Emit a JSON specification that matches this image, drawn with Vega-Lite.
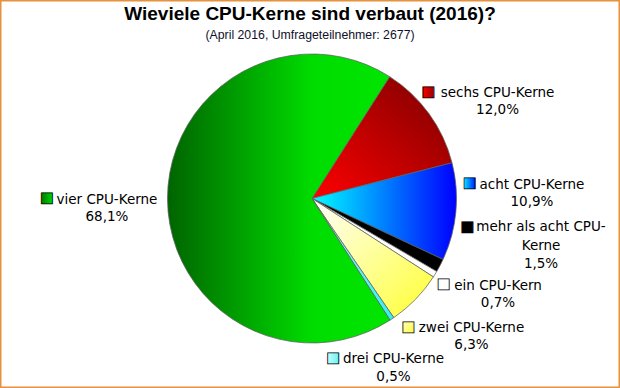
{
  "$schema": "https://vega.github.io/schema/vega-lite/v6.json",
  "width": 620,
  "height": 388,
  "autosize": {"type": "none"},
  "padding": 0,
  "background": "white",
  "view": {"stroke": "#e8913d", "strokeWidth": 3, "fill": "white"},
  "config": {
    "view": {"stroke": "#e8913d", "strokeWidth": 3},
    "text": {"font": "DejaVu Sans"}
  },
  "title": {
    "text": "Wieviele CPU-Kerne sind verbaut (2016)?",
    "subtitle": "(April 2016, Umfrageteilnehmer: 2677)",
    "font": "Liberation Sans",
    "fontSize": 19,
    "fontWeight": "bold",
    "color": "#000000",
    "subtitleFont": "Liberation Sans",
    "subtitleFontSize": 12.3,
    "subtitleColor": "#10102a",
    "subtitlePadding": 5,
    "anchor": "middle",
    "frame": "group",
    "offset": -41
  },
  "data": {
    "values": [
      {"k": "sechs CPU-Kerne", "o": 1, "v": 12.0, "lbl": "sechs CPU-Kerne\n12,0%"},
      {"k": "acht CPU-Kerne", "o": 2, "v": 10.9, "lbl": "acht CPU-Kerne\n10,9%"},
      {"k": "mehr als acht CPU-Kerne", "o": 3, "v": 1.5, "lbl": "mehr als acht CPU-\nKerne\n1,5%"},
      {"k": "ein CPU-Kern", "o": 4, "v": 0.7, "lbl": "ein CPU-Kern\n0,7%"},
      {"k": "zwei CPU-Kerne", "o": 5, "v": 6.3, "lbl": "zwei CPU-Kerne\n6,3%"},
      {"k": "drei CPU-Kerne", "o": 6, "v": 0.5, "lbl": "drei CPU-Kerne\n0,5%"},
      {"k": "vier CPU-Kerne", "o": 7, "v": 68.1, "lbl": "vier CPU-Kerne\n68,1%"}
    ]
  },
  "transform": [
    {"stack": "v", "groupby": [], "sort": [{"field": "o", "order": "ascending"}], "as": ["v0", "v1"]}
  ],
  "layer": [
    {
      "transform": [{"filter": "datum.o == 1"}],
      "layer": [
        {"mark": {"type": "arc", "outerRadius": 144.5, "x": {"expr": "width/2+2"}, "y": {"expr": "height/2+4.5"}, "fill": {"gradient": "linear", "x1": 0, "y1": 1, "x2": 1, "y2": 0, "stops": [{"offset": 0, "color": "#ff0000"}, {"offset": 1, "color": "#780000"}]}, "stroke": "#606060", "strokeWidth": 0.75},
         "encoding": {"theta": {"field": "v0", "type": "quantitative", "stack": null, "scale": {"domain": [0, 100], "range": [0.5672, 6.8504]}}, "theta2": {"field": "v1"}}},
        {"mark": {"type": "text", "x": {"expr": "width/2+2"}, "y": {"expr": "height/2+4.5"}, "radius": 211.5, "thetaOffset": 0.503, "align": "center", "baseline": "alphabetic", "lineBreak": "\n", "lineHeight": 17.5, "fontSize": 13.5, "font": "DejaVu Sans", "fill": "#000000"},
         "encoding": {"theta": {"field": "v0", "type": "quantitative", "stack": null, "scale": {"domain": [0, 100], "range": [0.5672, 6.8504]}}, "text": {"field": "lbl"}}},
        {"mark": {"type": "text", "text": "■", "x": {"expr": "width/2+2"}, "y": {"expr": "height/2+4.5"}, "radius": 158.3, "thetaOffset": 0.2615, "align": "center", "baseline": "middle", "fontSize": 14.5, "font": "DejaVu Sans", "fill": {"gradient": "linear", "x1": 0, "y1": 0, "x2": 1, "y2": 0, "stops": [{"offset": 0, "color": "#ff0000"}, {"offset": 1, "color": "#900000"}]}, "stroke": "#000000", "strokeWidth": 0.8},
         "encoding": {"theta": {"field": "v0", "type": "quantitative", "stack": null, "scale": {"domain": [0, 100], "range": [0.5672, 6.8504]}}}}
      ]
    },
    {
      "transform": [{"filter": "datum.o == 2"}],
      "layer": [
        {"mark": {"type": "arc", "outerRadius": 144.5, "x": {"expr": "width/2+2"}, "y": {"expr": "height/2+4.5"}, "fill": {"gradient": "linear", "x1": 0, "y1": 0, "x2": 1, "y2": 0, "stops": [{"offset": 0, "color": "#00ffff"}, {"offset": 1, "color": "#0000ff"}]}, "stroke": "#606060", "strokeWidth": 0.75},
         "encoding": {"theta": {"field": "v0", "type": "quantitative", "stack": null, "scale": {"domain": [0, 100], "range": [0.5672, 6.8504]}}, "theta2": {"field": "v1"}}},
        {"mark": {"type": "text", "x": {"expr": "width/2+2"}, "y": {"expr": "height/2+4.5"}, "radius": 220.2, "thetaOffset": 0.2042, "align": "center", "baseline": "alphabetic", "lineBreak": "\n", "lineHeight": 17.5, "fontSize": 13.5, "font": "DejaVu Sans", "fill": "#000000"},
         "encoding": {"theta": {"field": "v0", "type": "quantitative", "stack": null, "scale": {"domain": [0, 100], "range": [0.5672, 6.8504]}}, "text": {"field": "lbl"}}},
        {"mark": {"type": "text", "text": "■", "x": {"expr": "width/2+2"}, "y": {"expr": "height/2+4.5"}, "radius": 158.6, "thetaOffset": 0.1497, "align": "center", "baseline": "middle", "fontSize": 14.5, "font": "DejaVu Sans", "fill": {"gradient": "linear", "x1": 0, "y1": 0, "x2": 1, "y2": 0, "stops": [{"offset": 0, "color": "#00ffff"}, {"offset": 1, "color": "#0000ff"}]}, "stroke": "#000000", "strokeWidth": 0.8},
         "encoding": {"theta": {"field": "v0", "type": "quantitative", "stack": null, "scale": {"domain": [0, 100], "range": [0.5672, 6.8504]}}}}
      ]
    },
    {
      "transform": [{"filter": "datum.o == 3"}],
      "layer": [
        {"mark": {"type": "arc", "outerRadius": 144.5, "x": {"expr": "width/2+2"}, "y": {"expr": "height/2+4.5"}, "fill": "#000000", "stroke": "#606060", "strokeWidth": 0.75},
         "encoding": {"theta": {"field": "v0", "type": "quantitative", "stack": null, "scale": {"domain": [0, 100], "range": [0.5672, 6.8504]}}, "theta2": {"field": "v1"}}},
        {"mark": {"type": "text", "x": {"expr": "width/2+2"}, "y": {"expr": "height/2+4.5"}, "radius": 231.4, "thetaOffset": -0.2922, "align": "center", "baseline": "alphabetic", "lineBreak": "\n", "lineHeight": 18.5, "fontSize": 13.5, "font": "DejaVu Sans", "fill": "#000000"},
         "encoding": {"theta": {"field": "v0", "type": "quantitative", "stack": null, "scale": {"domain": [0, 100], "range": [0.5672, 6.8504]}}, "text": {"field": "lbl"}}},
        {"mark": {"type": "text", "text": "■", "x": {"expr": "width/2+2"}, "y": {"expr": "height/2+4.5"}, "radius": 158.0, "thetaOffset": -0.2571, "align": "center", "baseline": "middle", "fontSize": 14.5, "font": "DejaVu Sans", "fill": "#000000", "stroke": "#000000", "strokeWidth": 0.8},
         "encoding": {"theta": {"field": "v0", "type": "quantitative", "stack": null, "scale": {"domain": [0, 100], "range": [0.5672, 6.8504]}}}}
      ]
    },
    {
      "transform": [{"filter": "datum.o == 4"}],
      "layer": [
        {"mark": {"type": "arc", "outerRadius": 144.5, "x": {"expr": "width/2+2"}, "y": {"expr": "height/2+4.5"}, "fill": "#ffffff", "stroke": "#606060", "strokeWidth": 0.75},
         "encoding": {"theta": {"field": "v0", "type": "quantitative", "stack": null, "scale": {"domain": [0, 100], "range": [0.5672, 6.8504]}}, "theta2": {"field": "v1"}}},
        {"mark": {"type": "text", "x": {"expr": "width/2+2"}, "y": {"expr": "height/2+4.5"}, "radius": 207.1, "thetaOffset": -0.0745, "align": "center", "baseline": "alphabetic", "lineBreak": "\n", "lineHeight": 17.5, "fontSize": 13.5, "font": "DejaVu Sans", "fill": "#000000"},
         "encoding": {"theta": {"field": "v0", "type": "quantitative", "stack": null, "scale": {"domain": [0, 100], "range": [0.5672, 6.8504]}}, "text": {"field": "lbl"}}},
        {"mark": {"type": "text", "text": "■", "x": {"expr": "width/2+2"}, "y": {"expr": "height/2+4.5"}, "radius": 157.2, "thetaOffset": 0.0469, "align": "center", "baseline": "middle", "fontSize": 14.5, "font": "DejaVu Sans", "fill": "#ffffff", "stroke": "#000000", "strokeWidth": 0.8},
         "encoding": {"theta": {"field": "v0", "type": "quantitative", "stack": null, "scale": {"domain": [0, 100], "range": [0.5672, 6.8504]}}}}
      ]
    },
    {
      "transform": [{"filter": "datum.o == 5"}],
      "layer": [
        {"mark": {"type": "arc", "outerRadius": 144.5, "x": {"expr": "width/2+2"}, "y": {"expr": "height/2+4.5"}, "fill": {"gradient": "linear", "x1": 0, "y1": 0, "x2": 1, "y2": 1, "stops": [{"offset": 0, "color": "#ffffff"}, {"offset": 1, "color": "#ffff30"}]}, "stroke": "#606060", "strokeWidth": 0.75},
         "encoding": {"theta": {"field": "v0", "type": "quantitative", "stack": null, "scale": {"domain": [0, 100], "range": [0.5672, 6.8504]}}, "theta2": {"field": "v1"}}},
        {"mark": {"type": "text", "x": {"expr": "width/2+2"}, "y": {"expr": "height/2+4.5"}, "radius": 207.7, "thetaOffset": 0.1216, "align": "center", "baseline": "alphabetic", "lineBreak": "\n", "lineHeight": 17.5, "fontSize": 13.5, "font": "DejaVu Sans", "fill": "#000000"},
         "encoding": {"theta": {"field": "v0", "type": "quantitative", "stack": null, "scale": {"domain": [0, 100], "range": [0.5672, 6.8504]}}, "text": {"field": "lbl"}}},
        {"mark": {"type": "text", "text": "■", "x": {"expr": "width/2+2"}, "y": {"expr": "height/2+4.5"}, "radius": 160.3, "thetaOffset": 0.3515, "align": "center", "baseline": "middle", "fontSize": 14.5, "font": "DejaVu Sans", "fill": {"gradient": "linear", "x1": 0, "y1": 0, "x2": 1, "y2": 1, "stops": [{"offset": 0, "color": "#ffffe0"}, {"offset": 1, "color": "#ffff30"}]}, "stroke": "#000000", "strokeWidth": 0.8},
         "encoding": {"theta": {"field": "v0", "type": "quantitative", "stack": null, "scale": {"domain": [0, 100], "range": [0.5672, 6.8504]}}}}
      ]
    },
    {
      "transform": [{"filter": "datum.o == 6"}],
      "layer": [
        {"mark": {"type": "arc", "outerRadius": 144.5, "x": {"expr": "width/2+2"}, "y": {"expr": "height/2+4.5"}, "fill": {"gradient": "linear", "x1": 0, "y1": 0, "x2": 1, "y2": 0, "stops": [{"offset": 0, "color": "#a0ffff"}, {"offset": 1, "color": "#30f0f0"}]}, "stroke": "#606060", "strokeWidth": 0.75},
         "encoding": {"theta": {"field": "v0", "type": "quantitative", "stack": null, "scale": {"domain": [0, 100], "range": [0.5672, 6.8504]}}, "theta2": {"field": "v1"}}},
        {"mark": {"type": "text", "x": {"expr": "width/2+2"}, "y": {"expr": "height/2+4.5"}, "radius": 183.6, "thetaOffset": 0.1415, "align": "center", "baseline": "alphabetic", "lineBreak": "\n", "lineHeight": 17.5, "fontSize": 13.5, "font": "DejaVu Sans", "fill": "#000000"},
         "encoding": {"theta": {"field": "v0", "type": "quantitative", "stack": null, "scale": {"domain": [0, 100], "range": [0.5672, 6.8504]}}, "text": {"field": "lbl"}}},
        {"mark": {"type": "text", "text": "■", "x": {"expr": "width/2+2"}, "y": {"expr": "height/2+4.5"}, "radius": 161.2, "thetaOffset": 0.469, "align": "center", "baseline": "middle", "fontSize": 14.5, "font": "DejaVu Sans", "fill": {"gradient": "linear", "x1": 0, "y1": 0, "x2": 1, "y2": 0, "stops": [{"offset": 0, "color": "#d0ffff"}, {"offset": 1, "color": "#60f0f0"}]}, "stroke": "#000000", "strokeWidth": 0.8},
         "encoding": {"theta": {"field": "v0", "type": "quantitative", "stack": null, "scale": {"domain": [0, 100], "range": [0.5672, 6.8504]}}}}
      ]
    },
    {
      "transform": [{"filter": "datum.o == 7"}],
      "layer": [
        {"mark": {"type": "arc", "outerRadius": 144.5, "x": {"expr": "width/2+2"}, "y": {"expr": "height/2+4.5"}, "fill": {"gradient": "linear", "x1": 0, "y1": 0, "x2": 1, "y2": 0, "stops": [{"offset": 0, "color": "#006400"}, {"offset": 0.65, "color": "#00dc00"}, {"offset": 1, "color": "#00e600"}]}, "stroke": "#606060", "strokeWidth": 0.75},
         "encoding": {"theta": {"field": "v0", "type": "quantitative", "stack": null, "scale": {"domain": [0, 100], "range": [0.5672, 6.8504]}}, "theta2": {"field": "v1"}}},
        {"mark": {"type": "text", "x": {"expr": "width/2+2"}, "y": {"expr": "height/2+4.5"}, "radius": 205.1, "thetaOffset": 2.1164, "align": "center", "baseline": "alphabetic", "lineBreak": "\n", "lineHeight": 17.5, "fontSize": 13.5, "font": "DejaVu Sans", "fill": "#000000"},
         "encoding": {"theta": {"field": "v0", "type": "quantitative", "stack": null, "scale": {"domain": [0, 100], "range": [0.5672, 6.8504]}}, "text": {"field": "lbl"}}},
        {"mark": {"type": "text", "text": "■", "x": {"expr": "width/2+2"}, "y": {"expr": "height/2+4.5"}, "radius": 265, "thetaOffset": 2.1419, "align": "center", "baseline": "middle", "fontSize": 14.5, "font": "DejaVu Sans", "fill": {"gradient": "linear", "x1": 0, "y1": 0, "x2": 1, "y2": 0, "stops": [{"offset": 0, "color": "#007000"}, {"offset": 1, "color": "#00e000"}]}, "stroke": "#000000", "strokeWidth": 0.8},
         "encoding": {"theta": {"field": "v0", "type": "quantitative", "stack": null, "scale": {"domain": [0, 100], "range": [0.5672, 6.8504]}}}}
      ]
    }
  ]
}
